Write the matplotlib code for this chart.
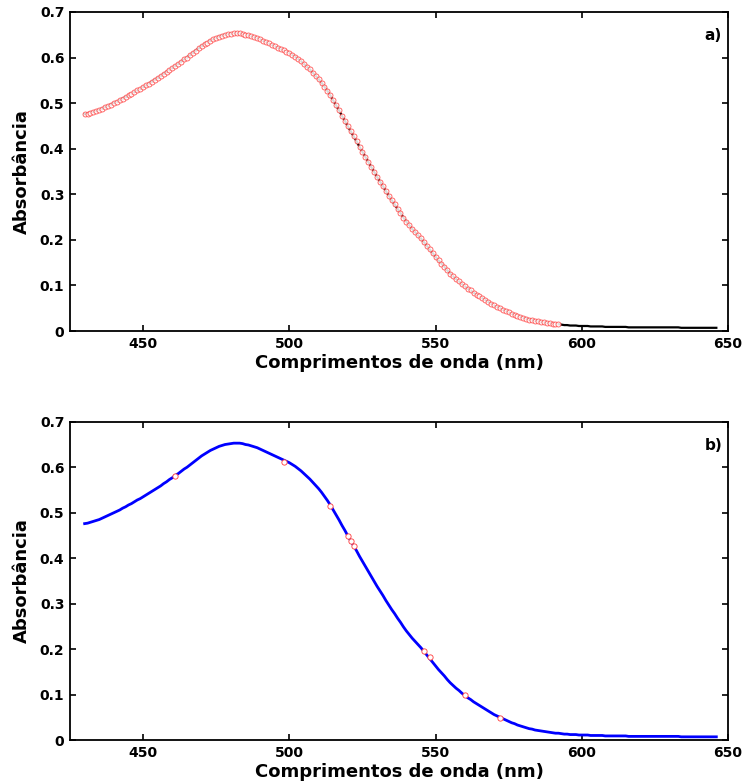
import matplotlib
matplotlib.use('Agg')
import matplotlib.pyplot as plt
import numpy as np

# absorption spectrum, 1 nm steps from 430 to 646 nm
wavelength = np.arange(430, 647)
absorbance = [
    0.476, 0.477, 0.479, 0.481, 0.483, 0.485, 0.488, 0.491, 0.494, 0.497,
    0.500, 0.503, 0.506, 0.510, 0.513, 0.517, 0.520, 0.524, 0.528, 0.531,
    0.535, 0.539, 0.543, 0.547, 0.551, 0.555, 0.559, 0.564, 0.568, 0.573,
    0.577, 0.582, 0.586, 0.591, 0.596, 0.600, 0.605, 0.610, 0.615, 0.620,
    0.625, 0.629, 0.633, 0.637, 0.640, 0.643, 0.646, 0.648, 0.650, 0.651,
    0.652, 0.653, 0.653, 0.653, 0.652, 0.650, 0.649, 0.647, 0.645, 0.643,
    0.640, 0.637, 0.634, 0.631, 0.628, 0.625, 0.622, 0.619, 0.616, 0.613,
    0.610, 0.606, 0.602, 0.597, 0.592, 0.586, 0.580, 0.574, 0.567, 0.560,
    0.553, 0.545, 0.536, 0.527, 0.517, 0.506, 0.495, 0.484, 0.472, 0.461,
    0.449, 0.438, 0.427, 0.416, 0.404, 0.393, 0.382, 0.371, 0.360, 0.349,
    0.338, 0.328, 0.318, 0.307, 0.297, 0.287, 0.278, 0.268, 0.259, 0.249,
    0.240, 0.232, 0.224, 0.217, 0.210, 0.203, 0.195, 0.187, 0.179, 0.171,
    0.163, 0.155, 0.148, 0.141, 0.133, 0.126, 0.120, 0.114, 0.109, 0.103,
    0.098, 0.093, 0.089, 0.084, 0.080, 0.076, 0.072, 0.068, 0.064, 0.060,
    0.056, 0.053, 0.050, 0.047, 0.044, 0.041, 0.038, 0.036, 0.033, 0.031,
    0.029, 0.027, 0.025, 0.024, 0.022, 0.021, 0.020, 0.019, 0.018, 0.017,
    0.016, 0.015, 0.015, 0.014, 0.013, 0.013, 0.012, 0.012, 0.012, 0.011,
    0.011, 0.011, 0.011, 0.010, 0.010, 0.010, 0.010, 0.010, 0.009, 0.009,
    0.009, 0.009, 0.009, 0.009, 0.009, 0.009, 0.008, 0.008, 0.008, 0.008,
    0.008, 0.008, 0.008, 0.008, 0.008, 0.008, 0.008, 0.008, 0.008, 0.008,
    0.008, 0.008, 0.008, 0.008, 0.007, 0.007, 0.007, 0.007, 0.007, 0.007,
    0.007, 0.007, 0.007, 0.007, 0.007, 0.007, 0.007,
]
absorbance = np.array(absorbance)

# measured points only go up to 592 nm
meas_end = 592

# selected wavelengths shown on the fitted curve
sel_wl = [461, 498, 514, 520, 521, 522, 546, 548, 560, 572]
sel_abs = [0.581, 0.612, 0.515, 0.449, 0.438, 0.427, 0.196, 0.183, 0.099, 0.048]

xticks = [450, 500, 550, 600, 650]
yticks = [0, 0.1, 0.2, 0.3, 0.4, 0.5, 0.6, 0.7]
ytick_labels = ['0', '0.1', '0.2', '0.3', '0.4', '0.5', '0.6', '0.7']

plt.rcParams['font.family'] = 'DejaVu Sans'
plt.rcParams['font.weight'] = 'bold'

fig = plt.figure(figsize=(7.48, 7.84), dpi=100)
ax1 = fig.add_axes([0.0936, 0.5778, 0.8797, 0.4069])
ax2 = fig.add_axes([0.0936, 0.0561, 0.8797, 0.4059])


def style(ax, tag):
    ax.set_xlim(425, 650)
    ax.set_ylim(0, 0.7)
    ax.set_xticks(xticks)
    ax.set_xticklabels([str(t) for t in xticks])
    ax.set_yticks(yticks)
    ax.set_yticklabels(ytick_labels)
    ax.tick_params(direction='in', top=True, right=True, length=4, width=1.2,
                   labelsize=10, pad=4)
    for s in ax.spines.values():
        s.set_linewidth(1.3)
    ax.set_xlabel('Comprimentos de onda (nm)', fontsize=13, fontweight='bold')
    ax.set_ylabel('Absorbância', fontsize=13, fontweight='bold')
    ax.xaxis.label.set_va('center')
    ax.yaxis.label.set_va('center')
    ax.xaxis.set_label_coords(0.5, -0.10)
    ax.yaxis.set_label_coords(-0.073, 0.5)
    ax.text(0.991, 0.925, tag, transform=ax.transAxes, ha='right', va='center',
            fontsize=11, fontweight='bold')


# a) measured spectrum (circles) over the full curve
m = wavelength <= meas_end
ax1.plot(wavelength, absorbance, color='black', lw=1.6)
ax1.plot(wavelength[m], absorbance[m], 'o', ms=3.6, mfc='white', mec='#ff3a3a',
         mew=0.6, alpha=0.85)
style(ax1, 'a)')

# b) fitted curve with the selected wavelengths
ax2.plot(wavelength, absorbance, color='#0000ff', lw=2.0)
ax2.plot(sel_wl, sel_abs, 'o', ms=3.8, mfc='white', mec='#ff3a3a', mew=0.6)
style(ax2, 'b)')

fig.savefig('out.png', dpi=100)
